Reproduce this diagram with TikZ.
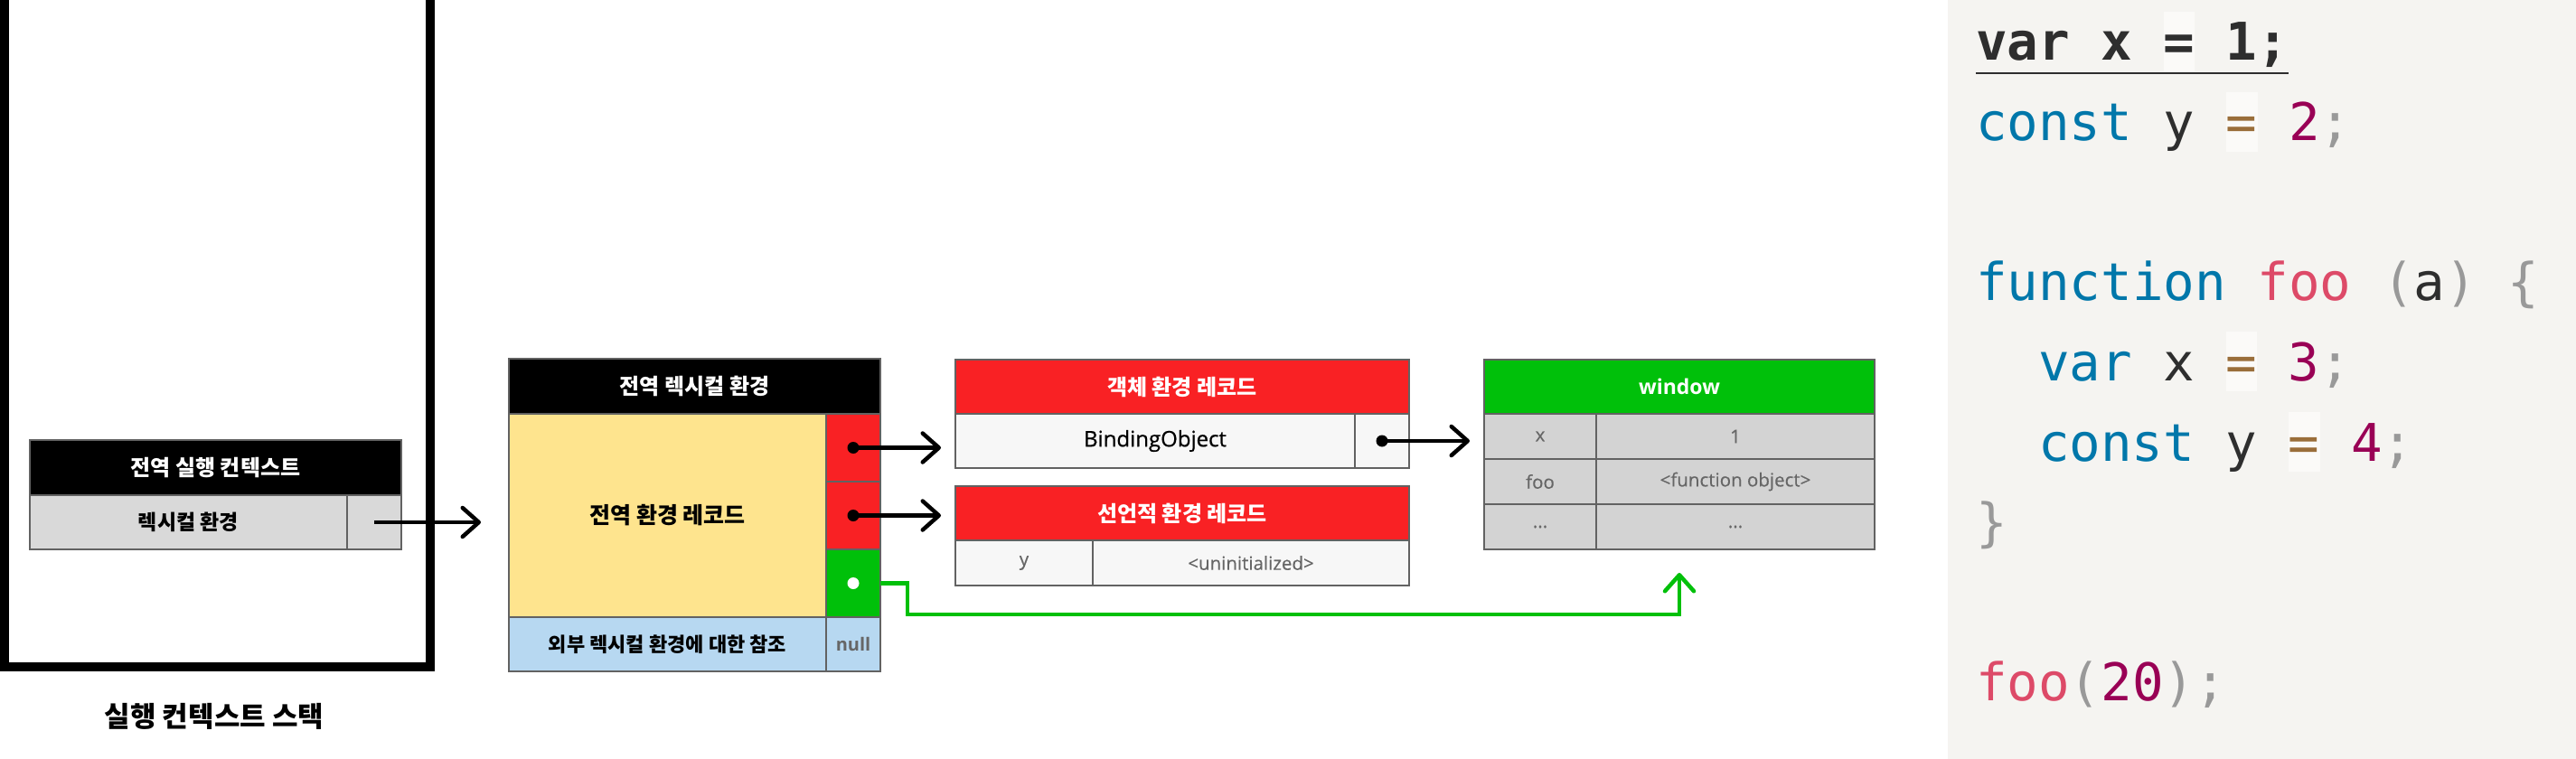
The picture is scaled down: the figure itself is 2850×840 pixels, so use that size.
\documentclass[tikz,border=0pt]{standalone}
\usepackage{fontspec}
\setmainfont{Noto Sans CJK KR}
\newfontfamily\latinfont{Open Sans}
\newfontfamily\latinmed[FakeBold=0.6]{Open Sans}
\newfontfamily\latinval[FakeBold=0.3]{Open Sans}
\newfontfamily\codefont{DejaVu Sans Mono}
\usepackage{xcolor}
\usetikzlibrary{arrows.meta,positioning}

\definecolor{recred}{HTML}{F92124}
\definecolor{wingreen}{HTML}{00C00A}
\definecolor{recyellow}{HTML}{FEE48E}
\definecolor{outerblue}{HTML}{B7D8F1}
\definecolor{cellgray}{HTML}{D9D9D9}
\definecolor{wingray}{HTML}{D3D3D3}
\definecolor{lightcell}{HTML}{F7F7F7}
\definecolor{edgegray}{HTML}{626262}
\definecolor{valgray}{HTML}{666666}
\definecolor{codebg}{HTML}{F5F4F1}
\definecolor{kwblue}{HTML}{0077AA}
\definecolor{fnred}{HTML}{DD4A68}
\definecolor{numpurple}{HTML}{990055}
\definecolor{opbrown}{HTML}{9A6E3A}
\definecolor{punctgray}{HTML}{999999}
\definecolor{codetext}{HTML}{2E2E2E}
\definecolor{eqbg}{HTML}{FBFAF8}

\newcommand{\fsz}[1]{\fontsize{#1pt}{#1pt}\selectfont}
\newcommand{\jskw}[1]{\textcolor{kwblue}{#1}}
\newcommand{\jsfn}[1]{\textcolor{fnred}{#1}}
\newcommand{\jsnum}[1]{\textcolor{numpurple}{#1}}
\newcommand{\jsop}[1]{\textcolor{opbrown}{#1}}
\newcommand{\jspu}[1]{\textcolor{punctgray}{#1}}
\newcommand{\eqhl}[1]{{\setlength{\fboxsep}{0pt}\colorbox{eqbg}{\rule[-12pt]{0pt}{66pt}#1}}}

\begin{document}
\begin{tikzpicture}[x=1pt, y=-1pt,
  cell/.style={draw=edgegray, line width=1.5pt, inner sep=0pt, outer sep=0pt, anchor=north west, align=center},
  hdr/.style={cell, fill=black, text=white, font=\fsz{24}\bfseries, minimum height=61pt},
  redhdr/.style={hdr, fill=recred, minimum height=60pt},
  krtext/.style={font=\fsz{23}\bfseries},
  valtext/.style={font=\latinval\fsz{20.5}, text=valgray},
  codeline/.style={anchor=base west, inner sep=0pt, outer sep=0pt, font=\codefont\fsz{57.5}, text=codetext},
  ptr/.style={-{Straight Barb[length=18pt, width=32pt, line cap=round, line join=round]}, line width=4.5pt},
  thisptr/.style={ptr, draw=wingreen}]
\useasboundingbox (0,0) rectangle (2850,840);

% execution context stack
\node[draw, line width=10pt, inner sep=0pt, outer sep=0pt, minimum width=471pt, minimum height=760pt, anchor=south west] (stack) at (5,738) {};
\node[font=\fsz{31}\bfseries, inner sep=0pt] (stacklbl) at (237,793) {실행 컨텍스트 스택};
\node[hdr, minimum width=411pt] (echdr) at (33,487) {전역 실행 컨텍스트};
\node[cell, krtext, fill=cellgray, minimum width=351pt, minimum height=60pt] (ecenv) at (echdr.south west) {렉시컬 환경};
\node[cell, fill=cellgray, minimum width=60pt, minimum height=60pt] (ecptr) at (ecenv.north east) {};

% global lexical environment
\node[hdr, minimum width=411pt] (glehdr) at (563,397) {전역 렉시컬 환경};
\node[cell, fill=recyellow, font=\fsz{25}\bfseries, minimum width=351pt, minimum height=225pt] (glerec) at (glehdr.south west) {전역 환경 레코드};
\node[cell, fill=recred, minimum width=60pt, minimum height=75pt] (gleobj) at (glerec.north east) {};
\node[cell, fill=recred, minimum width=60pt, minimum height=75pt] (gledecl) at (gleobj.south west) {};
\node[cell, fill=wingreen, minimum width=60pt, minimum height=75pt] (glethis) at (gledecl.south west) {};
\node[cell, fill=outerblue, font=\fsz{22}\bfseries, minimum width=351pt, minimum height=60pt] (gleouter) at (glerec.south west) {외부 렉시컬 환경에 대한 참조};
\node[cell, fill=outerblue, font=\latinfont\fsz{20}\bfseries, text=valgray, minimum width=60pt, minimum height=60pt] (glenull) at (gleouter.north east) {null};

% object / declarative environment records
\node[redhdr, minimum width=502pt] (objhdr) at (1057,398) {객체 환경 레코드};
\node[cell, fill=lightcell, font=\latinmed\fsz{24}, minimum width=442pt, minimum height=60pt] (objbind) at (objhdr.south west) {BindingObject};
\node[cell, fill=lightcell, minimum width=60pt, minimum height=60pt] (objptr) at (objbind.north east) {};
\node[redhdr, minimum width=502pt] (declhdr) at (1057,538) {선언적 환경 레코드};
\node[cell, valtext, fill=lightcell, minimum width=152pt, minimum height=50pt] (decly) at (declhdr.south west) {y};
\node[cell, valtext, fill=lightcell, minimum width=350pt, minimum height=50pt] (declval) at (decly.north east) {<uninitialized>};

% window object
\node[hdr, fill=wingreen, font=\latinfont\fsz{23}\bfseries, minimum width=432pt, minimum height=60pt] (winhdr) at (1642,398) {window};
\node[cell, valtext, fill=wingray, minimum width=124pt, minimum height=50pt] (wink1) at (winhdr.south west) {x};
\node[cell, valtext, fill=wingray, minimum width=308pt, minimum height=50pt] (winv1) at (wink1.north east) {1};
\node[cell, valtext, fill=wingray, minimum width=124pt, minimum height=50pt] (wink2) at (wink1.south west) {foo};
\node[cell, valtext, fill=wingray, minimum width=308pt, minimum height=50pt] (winv2) at (wink2.north east) {<function object>};
\node[cell, valtext, fill=wingray, minimum width=124pt, minimum height=50pt] (wink3) at (wink2.south west) {...};
\node[cell, valtext, fill=wingray, minimum width=308pt, minimum height=50pt] (winv3) at (wink3.north east) {...};

% references
\draw[ptr] (ecptr.center) -- ([xshift=-31pt]glehdr.west |- ecptr.center);
\fill (gleobj.center) circle (6.5);
\draw[ptr] (gleobj.center) -- ([xshift=-16pt]objhdr.west |- gleobj.center);
\fill (gledecl.center) circle (6.5);
\draw[ptr] (gledecl.center) -- ([xshift=-16pt]declhdr.west |- gledecl.center);
\fill (objptr.center) circle (6.5);
\draw[ptr] (objptr.center) -- ([xshift=-16pt]winhdr.west |- objptr.center);
\fill[white] (glethis.center) circle (6.5);
\coordinate (winref) at (1858,634);
\draw[thisptr] (glethis.east) -- ++(30,0) -- ++(0,34.5) -| (winref);

% source code
\fill[codebg] (2155,0) rectangle (2850,840);
\node[codeline, font=\codefont\fsz{57.5}\bfseries] (ln1) at (2186,67) {var x \eqhl{=} 1;};
\draw[codetext, line width=2pt] ([yshift=-2pt]ln1.south west) -- ([yshift=-2pt]ln1.south east);
\node[codeline] (ln2) at (2186,156) {\jskw{const} y \eqhl{\jsop{=}} \jsnum{2}\jspu{;}};
\node[codeline] (ln3) at (2186,332) {\jskw{function} \jsfn{foo} \jspu{(}a\jspu{)} \jspu{\{}};
\node[codeline] (ln4) at (2255,421) {\jskw{var} x \eqhl{\jsop{=}} \jsnum{3}\jspu{;}};
\node[codeline] (ln5) at (2255,510) {\jskw{const} y \eqhl{\jsop{=}} \jsnum{4}\jspu{;}};
\node[codeline] (ln6) at (2186,598) {\jspu{\}}};
\node[codeline] (ln7) at (2186,775) {\jsfn{foo}\jspu{(}\jsnum{20}\jspu{)}\jspu{;}};
\end{tikzpicture}
\end{document}
